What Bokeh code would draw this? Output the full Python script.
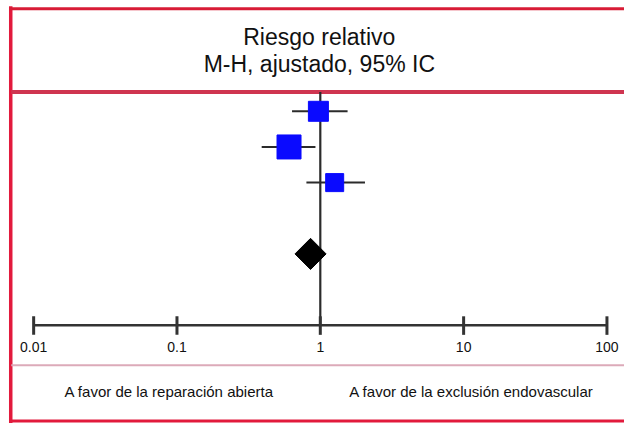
import math
from bokeh.plotting import figure
from bokeh.models import Range1d
from bokeh.core.properties import value
from bokeh.embed import file_html
from bokeh.resources import INLINE

# ---- data ----
study_rows = [0, 1, 2]
study_rr = [0.97, 0.605, 1.26]
ci_low = [0.635, 0.39, 0.80]
ci_high = [1.55, 0.925, 2.05]
box_size = [20, 24, 18]
pooled_row = [4]
pooled_rr = [0.855]
tick_values = [0.01, 0.1, 1, 10, 100]
tick_labels = ["0.01", "0.1", "1", "10", "100"]
title_lines = ["Riesgo relativo", "M-H, ajustado, 95% IC"]
favor_labels = ["A favor de la reparación abierta", "A favor de la exclusión endovascular"]

# ---- layout (design space 640 x 439, drawn into 624 x 423) ----
W, H = 624, 423
REF_W, REF_H = 640.0, 439.0
X_ORIGIN = 34.0      # design px of 0.01
DECADE = 147.0       # design px per decade
ROW0 = 115.0         # design px of row 0
ROW_H = 37.0

def px(x):
    return 10 ** (-2 + (x - X_ORIGIN) / DECADE)

def py(y):
    return (y - ROW0) / ROW_H

p = figure(width=W, height=H, x_axis_type="log",
           x_range=Range1d(px(0), px(REF_W)),
           y_range=Range1d(py(REF_H), py(0)),
           output_backend="svg", toolbar_location=None,
           x_axis_location=None, y_axis_location=None,
           min_border=0, outline_line_color=None,
           background_fill_color="white", border_fill_color="white")
p.xgrid.visible = False
p.ygrid.visible = False

FONT = value("Liberation Sans")
AXIS_ROW = 6.0
dark = "#2b2b2b"

# frame borders
red = "#e21a3c"
p.segment(x0=[px(10.5)], y0=[py(6)], x1=[px(10.5)], y1=[py(440)], line_color=red, line_width=3.5)
p.segment(x0=[px(9)], y0=[py(8.5)], x1=[px(660)], y1=[py(8.5)], line_color="#d81c36", line_width=3)
p.segment(x0=[px(9)], y0=[py(436.5)], x1=[px(660)], y1=[py(436.5)], line_color=red, line_width=3)
# separators
p.segment(x0=[px(11)], y0=[py(95)], x1=[px(660)], y1=[py(95)], line_color="#cf3550", line_width=4)
p.segment(x0=[px(11)], y0=[py(378.5)], x1=[px(660)], y1=[py(378.5)], line_color="#dcaab9", line_width=2)

# reference line at 1
p.segment(x0=[1], y0=[py(95)], x1=[1], y1=[AXIS_ROW], line_color=dark, line_width=2.2)

# x axis
p.segment(x0=[tick_values[0]], y0=[AXIS_ROW], x1=[tick_values[-1]], y1=[AXIS_ROW],
          line_color="#333333", line_width=2.5)
p.segment(x0=tick_values, y0=[AXIS_ROW - 0.25] * len(tick_values),
          x1=tick_values, y1=[AXIS_ROW + 0.27] * len(tick_values),
          line_color="#333333", line_width=3)
p.text(x=tick_values, y=[AXIS_ROW + 0.62] * len(tick_values), text=tick_labels,
       text_font=FONT, text_font_size=value("14px"), text_color="#111111",
       text_align="center", text_baseline="middle")

# CI lines and boxes
p.segment(x0=ci_low, y0=study_rows, x1=ci_high, y1=study_rows, line_color=dark, line_width=2)
p.scatter(x=study_rr, y=study_rows, size=box_size, marker="square",
          fill_color="#0a0aff", line_color="#0a0aff", line_width=1)
# pooled diamond
p.scatter(x=pooled_rr, y=pooled_row, size=22, marker="square", angle=math.pi / 4,
          fill_color="black", line_color="black")

# titles
p.text(x=[px(327)] * 2, y=[py(38), py(66)], text=title_lines,
       text_font=FONT, text_font_size=value("23px"), text_color="#111111",
       text_align="center", text_baseline="middle")
# favour labels
p.text(x=[px(173), px(483)], y=[py(406)] * 2, text=favor_labels,
       text_font=FONT, text_font_size=value("15px"), text_color="#111111",
       text_align="center", text_baseline="middle")

open("out.html", "w").write(file_html(p, INLINE))
